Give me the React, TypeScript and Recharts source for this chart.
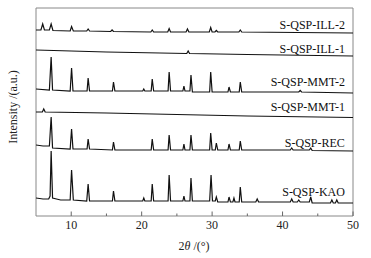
import { LineChart, Line, XAxis, YAxis, ReferenceArea, ReferenceDot } from 'recharts';

type Pt = { x: number; y: number };
const pts = (rows: number[][]): Pt[] => rows.map(([x, y]) => ({ x, y }));

// 2θ (deg) vs stacked intensity (a.u.)
const ill2 = pts([
  [5, 186], [5.7, 186], [5.95, 192], [6.2, 186], [6.9, 186], [7.15, 192], [7.4, 185.5],
  [9.85, 185], [10.05, 189.5], [10.3, 185], [12.2, 185], [12.4, 187], [12.6, 185],
  [15.6, 184.5], [15.8, 186], [16.0, 184.5], [21.3, 184], [21.5, 186], [21.7, 184],
  [23.7, 184], [23.9, 187.5], [24.1, 184], [26.3, 184], [26.5, 187], [26.7, 184],
  [29.6, 184], [29.8, 188.5], [30.0, 184], [30.4, 184], [30.6, 185.5], [30.8, 184],
  [33.8, 184], [34.0, 186], [34.2, 184], [50, 183],
]);

const ill1 = pts([
  [5, 166], [10, 165], [15, 164], [26.4, 162.5], [26.6, 165], [26.8, 162.5],
  [35, 161.5], [50, 160],
]);

const mmt2 = pts([
  [5, 127], [6.9, 126], [7.15, 159], [7.35, 126], [9.85, 125], [10.05, 148], [10.25, 125],
  [12.25, 125], [12.4, 138], [12.6, 125], [15.85, 125], [16.0, 134], [16.2, 125],
  [20.15, 125], [20.3, 127], [20.45, 125], [21.35, 125], [21.5, 137], [21.7, 125],
  [23.75, 125], [23.9, 144], [24.1, 125], [25.85, 125], [26.0, 130], [26.15, 125],
  [26.85, 125], [27.0, 141], [27.2, 124], [29.65, 124], [29.8, 144], [30.0, 124],
  [32.25, 124], [32.4, 129], [32.6, 124], [33.85, 124], [34.0, 134], [34.2, 124],
  [42.3, 124], [42.5, 125.5], [42.7, 124], [50, 123],
]);

const mmt1 = pts([
  [5, 104], [5.9, 104], [6.1, 107], [6.3, 104], [15, 103], [25, 101.5], [35, 100], [50, 98.5],
]);

const rec = pts([
  [5, 71], [6.0, 70], [6.9, 70], [7.15, 99], [7.35, 68], [9.85, 67], [10.05, 87], [10.25, 67],
  [12.25, 67], [12.4, 77], [12.6, 67], [15.85, 66], [16.0, 74], [16.2, 66],
  [21.35, 66], [21.5, 77], [21.7, 66], [23.75, 66], [23.9, 81], [24.1, 66],
  [25.85, 66], [26.0, 72], [26.15, 66], [26.85, 66], [27.0, 81], [27.2, 66],
  [29.65, 66], [29.8, 83], [30.0, 66], [30.45, 66], [30.6, 73], [30.8, 66],
  [32.25, 66], [32.4, 72], [32.6, 66], [33.85, 66], [34.0, 75], [34.2, 66],
  [41.1, 66], [41.3, 68], [41.5, 66], [43.8, 66], [44.0, 68], [44.2, 65.5], [50, 65],
]);

const kao = pts([
  [5, 18], [6.0, 17], [6.8, 17], [7.0, 20], [7.15, 65], [7.35, 18], [8.5, 16],
  [9.85, 16], [10.05, 46], [10.3, 16], [12.2, 15], [12.4, 32], [12.6, 15],
  [15.85, 15], [16.0, 25], [16.2, 15], [20.15, 15], [20.3, 18], [20.45, 15],
  [21.35, 15], [21.5, 32], [21.7, 15], [23.75, 15], [23.9, 41], [24.1, 15],
  [25.85, 15], [26.0, 20], [26.15, 15], [26.85, 15], [27.0, 38], [27.2, 15],
  [29.65, 15], [29.85, 41], [30.05, 15], [30.45, 15], [30.6, 19], [30.8, 14],
  [32.25, 14], [32.4, 19], [32.6, 14], [32.95, 14], [33.1, 18], [33.25, 14],
  [33.85, 14], [34.0, 29], [34.2, 14], [36.2, 14], [36.4, 17], [36.6, 14],
  [41.1, 14], [41.3, 17], [41.5, 14], [42.1, 14], [42.3, 16], [42.5, 14],
  [43.8, 14], [44.0, 19], [44.2, 13], [46.8, 13], [47.0, 16], [47.2, 13],
  [47.5, 13], [47.7, 16], [47.9, 13], [50, 13],
]);

const seriesNames = ['S-QSP-ILL-2', 'S-QSP-ILL-1', 'S-QSP-MMT-2', 'S-QSP-MMT-1', 'S-QSP-REC', 'S-QSP-KAO'];
const seriesData = [ill2, ill1, mmt2, mmt1, rec, kao];
const labelY = [191, 167, 134, 109, 73, 24];
const xTicks = [10, 15, 20, 25, 30, 35, 40, 45, 50];

const FONT = '"Liberation Serif", "Times New Roman", serif';

const XTick = (props: any) => {
  const { x, y, payload } = props;
  const major = payload.value % 10 === 0;
  return (
    <g>
      <line x1={x} x2={x} y1={y} y2={y - (major ? 4.5 : 2.5)} stroke="#666" />
      {major && (
        <text x={x} y={y + 13} textAnchor="middle" fontSize={12} fill="#222" fontFamily={FONT}>
          {payload.value}
        </text>
      )}
    </g>
  );
};

// both axis titles drawn here (the hidden-width y axis drops its own label)
const AxisTitles = () => (
  <g>
    <text x={194} y={250} textAnchor="middle" fontSize={12} fill="#222" fontFamily={FONT}>
      2<tspan fontStyle="italic">θ</tspan> /(°)
    </text>
    <text x={17} y={107} textAnchor="middle" fontSize={12} fill="#222" fontFamily={FONT}
      transform="rotate(-90 17 107)">
      Intensity /(a.u.)
    </text>
  </g>
);

export default function App() {
  return (
    <div style={{ position: 'absolute', left: 0, top: 0, background: '#fff' }}>
      <LineChart width={371} height={258} margin={{ top: 8, right: 18, left: 36, bottom: 12 }}
        style={{ fontFamily: FONT }}>
        <XAxis type="number" dataKey="x" domain={[5, 50]} ticks={xTicks} allowDataOverflow
          axisLine={false} tickLine={false} tickSize={0} tickMargin={0} height={30}
          tick={<XTick />} label={<AxisTitles />} />
        <YAxis type="number" domain={[0, 208]} allowDataOverflow width={0}
          axisLine={false} tickLine={false} tick={false} />
        <ReferenceArea x1={5} x2={50} y1={0} y2={208} fill="none" stroke="#888" strokeWidth={1} />
        {seriesData.map((d, i) => (
          <Line key={seriesNames[i]} data={d} dataKey="y" type="linear" stroke="#111"
            strokeWidth={1.2} dot={false} activeDot={false} isAnimationActive={false} />
        ))}
        {seriesNames.map((name, i) => (
          <ReferenceDot key={name} x={48.85} y={labelY[i]} r={0} fill="none" stroke="none"
            label={{ value: name, position: 'left', offset: 0, fill: '#111', fontSize: 12, fontFamily: FONT }} />
        ))}
      </LineChart>
    </div>
  );
}
